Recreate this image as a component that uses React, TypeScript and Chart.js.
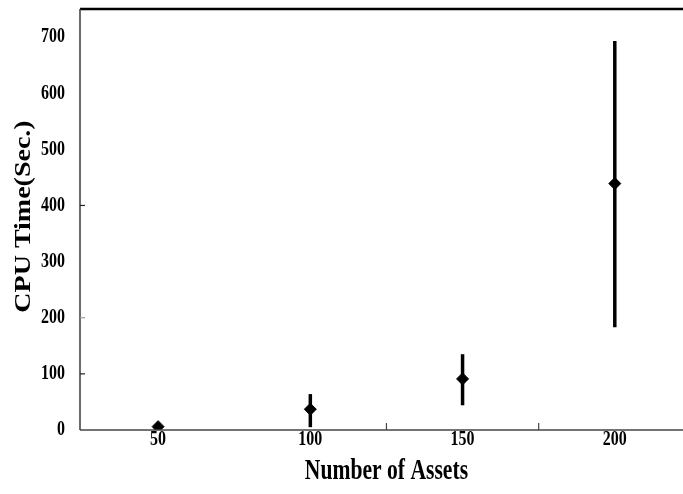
import React, { useEffect, useRef } from "react";
import { Chart, registerables } from "chart.js";

Chart.register(...registerables);

// ---- data ----
const categories = [50, 100, 150, 200];
const meanTimes = [6, 37, 91, 439];
const lowTimes = [1, 5, 44, 183];
const highTimes = [13, 64, 135, 693];
const yTickValues = [0, 100, 200, 300, 400, 500, 600, 700];
const xTickValues = [50, 100, 150, 200];
const yInnerTicks = [100, 200, 400];
const xInnerTicks = [125, 175];
const xTitle = "Number of Assets";
const yTitle = "CPU Time(Sec.)";

const FONT = '"Liberation Serif", "Times New Roman", serif';

function drawText(
  ctx: CanvasRenderingContext2D,
  text: string,
  x: number,
  y: number,
  size: number,
  align: CanvasTextAlign,
  sx: number,
  rotate = 0,
  sy = 1
) {
  ctx.save();
  ctx.translate(x, y);
  if (rotate) ctx.rotate(rotate);
  ctx.scale(sx, sy);
  ctx.font = `bold ${size}px ${FONT}`;
  ctx.fillStyle = "#000";
  ctx.textAlign = align;
  ctx.textBaseline = "middle";
  ctx.fillText(text, 0, 0);
  ctx.restore();
}

const customDraw = {
  id: "customDraw",
  beforeDatasetsDraw(chart: any) {
    const { ctx, scales } = chart;
    const x = scales.x;
    const y = scales.y;
    ctx.save();
    ctx.strokeStyle = "#000";
    ctx.lineWidth = 3.5;
    categories.forEach((c, i) => {
      const px = x.getPixelForValue(c);
      ctx.beginPath();
      ctx.moveTo(px, y.getPixelForValue(lowTimes[i]));
      ctx.lineTo(px, y.getPixelForValue(highTimes[i]));
      ctx.stroke();
    });
    ctx.restore();
  },
  afterDraw(chart: any) {
    const { ctx, chartArea, scales } = chart;
    const x = scales.x;
    const y = scales.y;
    const { left, right, top, bottom } = chartArea;
    ctx.save();
    // top border
    ctx.strokeStyle = "#000";
    ctx.lineWidth = 2.5;
    ctx.beginPath();
    ctx.moveTo(left, top);
    ctx.lineTo(right, top);
    ctx.stroke();
    // left axis
    ctx.strokeStyle = "#3a3a3a";
    ctx.lineWidth = 1.5;
    ctx.beginPath();
    ctx.moveTo(left, top);
    ctx.lineTo(left, bottom);
    ctx.stroke();
    // bottom axis
    ctx.strokeStyle = "#444";
    ctx.beginPath();
    ctx.moveTo(left, bottom);
    ctx.lineTo(right, bottom);
    ctx.stroke();
    // inner ticks
    ctx.lineWidth = 1.2;
    yInnerTicks.forEach((v) => {
      const py = y.getPixelForValue(v);
      ctx.strokeStyle = v === 200 ? "#999" : "#222";
      ctx.beginPath();
      ctx.moveTo(left, py);
      ctx.lineTo(left + 5, py);
      ctx.stroke();
    });
    ctx.strokeStyle = "#444";
    xInnerTicks.forEach((v) => {
      const px = x.getPixelForValue(v);
      ctx.beginPath();
      ctx.moveTo(px, bottom);
      ctx.lineTo(px, bottom - 7);
      ctx.stroke();
    });
    ctx.restore();

    // tick labels
    yTickValues.forEach((v) => {
      drawText(ctx, String(v), left - 15, y.getPixelForValue(v), 21, "right", 0.76);
    });
    xTickValues.forEach((v) => {
      drawText(ctx, String(v), x.getPixelForValue(v), bottom + 10, 21, "center", 0.76);
    });
    // titles
    drawText(ctx, xTitle, x.getPixelForValue(125), bottom + 41, 30, "center", 0.72);
    drawText(ctx, yTitle, 24, (top + bottom) / 2 - 3, 28, "center", 1, -Math.PI / 2, 0.85);
  },
};

export default function App() {
  const canvasRef = useRef<HTMLCanvasElement | null>(null);

  useEffect(() => {
    const canvas = canvasRef.current;
    if (!canvas) return;
    const chart = new Chart(canvas, {
      type: "scatter",
      data: {
        datasets: [
          {
            label: "CPU Time",
            data: categories.map((c, i) => ({ x: c, y: meanTimes[i] })),
            pointStyle: "rectRot",
            pointRadius: 6,
            pointHoverRadius: 6,
            backgroundColor: "#000",
            borderColor: "#000",
            borderWidth: 1,
            showLine: false,
          },
        ],
      },
      options: {
        responsive: true,
        maintainAspectRatio: false,
        animation: false,
        devicePixelRatio: 1,
        layout: { padding: { left: 80, top: 9, right: 0, bottom: 64 } },
        plugins: {
          legend: { display: false },
          tooltip: { enabled: false },
        },
        scales: {
          x: { type: "linear", min: 24.35, max: 222.4, display: false },
          y: { type: "linear", min: 0, max: 750, display: false },
        },
      },
      plugins: [customDraw],
    });
    return () => chart.destroy();
  }, []);

  return (
    <div
      style={{
        position: "fixed",
        left: 0,
        top: 0,
        width: 683,
        height: 494,
        overflow: "hidden",
        background: "#fff",
      }}
    >
      <div style={{ position: "relative", width: 690, height: 494 }}>
        <canvas ref={canvasRef} />
      </div>
    </div>
  );
}
